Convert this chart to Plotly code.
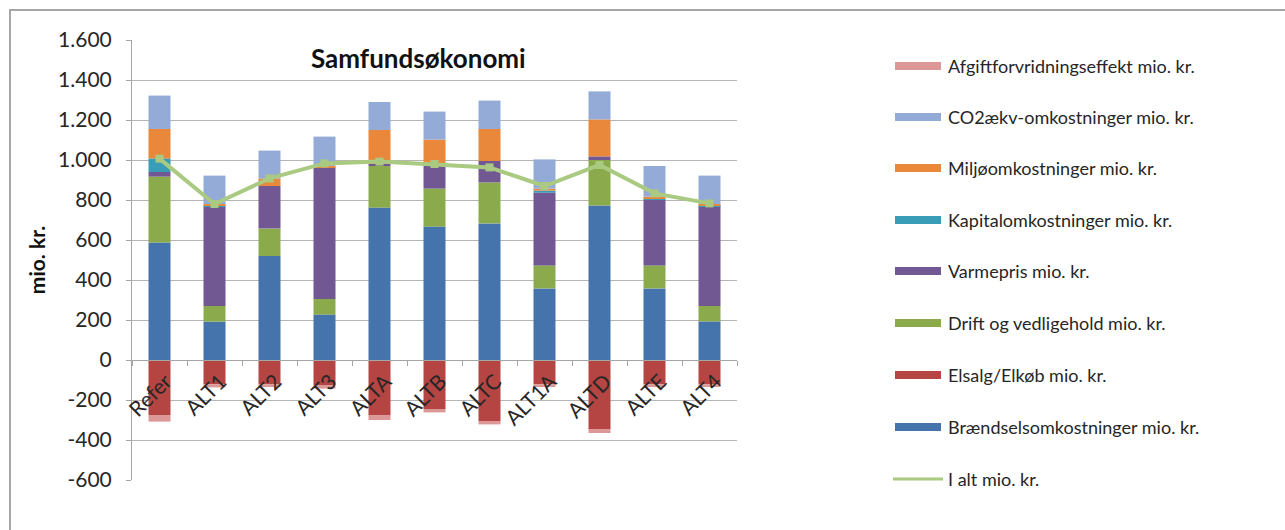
import plotly.graph_objects as go

# Cost components per scenario, mio. kr. (segment heights of the stacks)
categories = ["Refer", "ALT1", "ALT2", "ALT3", "ALTA", "ALTB", "ALTC", "ALT1A", "ALTD", "ALTE", "ALT4"]

braendsel = [588, 192, 520, 227, 762, 667, 683, 358, 773, 358, 193]
elsalg = [-275, -122, -122, -125, -278, -245, -305, -122, -347, -122, -122]
drift = [329, 78, 137, 78, 208, 190, 205, 115, 227, 115, 77]
varmepris = [23, 497, 213, 655, 10, 113, 107, 364, 18, 327, 497]
kapital = [68, 4, 0, 3, 0, 0, 0, 10, 0, 8, 4]
miljoe = [147, 9, 38, 8, 170, 132, 160, 10, 185, 9, 9]
co2 = [167, 142, 139, 146, 140, 140, 142, 146, 140, 153, 142]
afgift = [-33, -15, -13, -18, -22, -17, -17, -13, -18, -13, -13]
i_alt = [1007, 780, 908, 983, 992, 980, 963, 870, 975, 833, 783]

y_ticks = [-600, -400, -200, 0, 200, 400, 600, 800, 1000, 1200, 1400, 1600]
y_ticklabels = ["-600", "-400", "-200", "0", "200", "400", "600", "800",
                "1.000", "1.200", "1.400", "1.600"]

FONT = "Lato"
W, H = 1285, 530
L, R, T, B = 132, 548, 40, 50
PW, PH = W - L - R, H - T - B


def px(x):
    return (x - L) / PW


def py(y):
    return (H - B - y) / PH


bar_series = [
    ("Brændselsomkostninger mio. kr.", braendsel, "#4574ad"),
    ("Elsalg/Elkøb mio. kr.", elsalg, "#b44542"),
    ("Drift og vedligehold mio. kr.", drift, "#8aaa4c"),
    ("Varmepris mio. kr.", varmepris, "#715893"),
    ("Kapitalomkostninger mio. kr.", kapital, "#3a9db7"),
    ("Miljøomkostninger mio. kr.", miljoe, "#e9873b"),
    ("CO2ækv-omkostninger mio. kr.", co2, "#93abd6"),
    ("Afgiftforvridningseffekt mio. kr.", afgift, "#dc9897"),
]
line_name = "I alt mio. kr."
line_color = "#a9ca80"

fig = go.Figure()
for name, vals, color in bar_series:
    fig.add_trace(go.Bar(x=categories, y=vals, name=name, marker_color=color,
                         marker_line_width=0, width=0.4, showlegend=False))

fig.add_trace(go.Scatter(x=categories, y=i_alt, name=line_name, mode="lines+markers",
                         line=dict(color=line_color, width=4),
                         marker=dict(symbol="square", size=8, color=line_color),
                         showlegend=False))

shapes = []
annotations = []

# outer chart frame
shapes.append(dict(type="rect", xref="paper", yref="paper",
                   x0=px(10), x1=px(1300), y0=py(540), y1=py(10),
                   line=dict(color="#a6a6a6", width=2), fillcolor="rgba(0,0,0,0)"))

# hand-built legend: wide swatches, top to bottom
legend_rows = [bar_series[i] for i in [7, 6, 5, 4, 3, 2, 1, 0]]
row_y = [66, 117, 168, 220, 271, 323, 375, 427]
for (name, _, color), yy in zip(legend_rows, row_y):
    shapes.append(dict(type="rect", xref="paper", yref="paper",
                       x0=px(895), x1=px(941), y0=py(yy + 4), y1=py(yy - 4),
                       line=dict(width=0), fillcolor=color))
    annotations.append(dict(xref="paper", yref="paper", x=px(946), y=py(yy),
                            text=name, showarrow=False, xanchor="left", yanchor="middle",
                            font=dict(family=FONT, size=18, color="#262626")))
shapes.append(dict(type="line", xref="paper", yref="paper",
                   x0=px(893), x1=px(943), y0=py(479), y1=py(479),
                   line=dict(color=line_color, width=3)))
annotations.append(dict(xref="paper", yref="paper", x=px(946), y=py(479),
                        text=line_name, showarrow=False, xanchor="left", yanchor="middle",
                        font=dict(family=FONT, size=18, color="#262626")))

# chart title
annotations.append(dict(xref="paper", yref="paper", x=px(418), y=py(58),
                        text="<b>Samfundsøkonomi</b>", showarrow=False,
                        xanchor="center", yanchor="middle",
                        font=dict(family=FONT, size=26, color="#111111")))

fig.update_layout(
    width=W, height=H, autosize=False,
    margin=dict(l=L, r=R, t=T, b=B, pad=0),
    barmode="relative",
    paper_bgcolor="white", plot_bgcolor="white",
    font=dict(family=FONT, size=18, color="#262626"),
    shapes=shapes, annotations=annotations,
    showlegend=False,
)

fig.update_yaxes(
    range=[-600, 1600], tickvals=y_ticks, ticktext=y_ticklabels,
    showgrid=True, gridcolor="#b5b5b5", gridwidth=1,
    showline=True, linecolor="#a6a6a6", linewidth=1,
    ticks="outside", ticklen=5, tickcolor="#a6a6a6",
    zeroline=False, ticklabelstandoff=10,
    tickfont=dict(family=FONT, size=21, color="#262626"),
    title=dict(text="<b>mio. kr.</b>", standoff=6,
               font=dict(family=FONT, size=21, color="#111111")),
    automargin=False,
)

fig.update_xaxes(
    type="category", range=[-0.5, 10.5],
    anchor="free", position=600 / 2200,
    showgrid=False, showline=True, linecolor="#a6a6a6", linewidth=1,
    ticks="outside", ticklen=5, tickcolor="#a6a6a6", tickson="boundaries",
    tickangle=-45, ticklabelshift=6,
    tickfont=dict(family=FONT, size=21, color="#262626"),
    automargin=False,
)

fig.write_html("out.html")
